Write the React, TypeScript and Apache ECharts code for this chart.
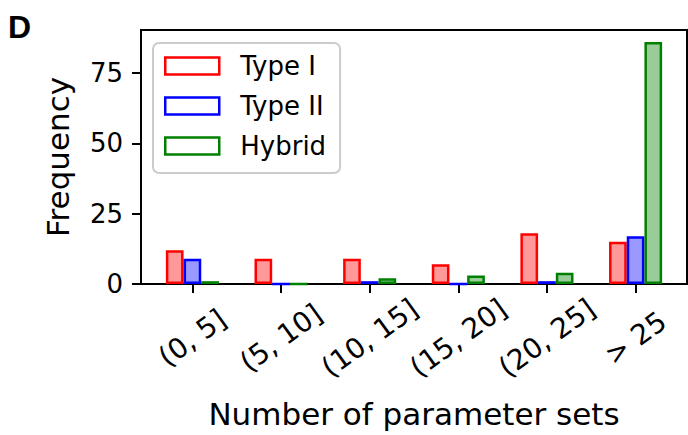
import React, { useEffect, useRef } from "react";
import * as echarts from "echarts";

const categories = ["(0, 5]", "(5, 10]", "(10, 15]", "(15, 20]", "(20, 25]", "> 25"];
const typeI = [12, 9, 9, 7, 18, 15];
const typeII = [9, 0, 1, 0, 1, 17];
const hybrid = [1, 0, 2, 3, 4, 86];
const yTicks = [0, 25, 50, 75];
const xTicks = [0, 1, 2, 3, 4, 5];

const seriesDefs = [
  { name: "Type I", data: typeI, fill: "#ff9999", edge: "#ff0000" },
  { name: "Type II", data: typeII, fill: "#9999ff", edge: "#0000ff" },
  { name: "Hybrid", data: hybrid, fill: "#99cc99", edge: "#008000" },
];

export default function App() {
  const ref = useRef<HTMLDivElement>(null);
  useEffect(() => {
    if (!ref.current) return;
    const chart = echarts.init(ref.current, undefined, { renderer: "svg" });
    const font = "DejaVu Sans";
    const option: any = {
      animation: false,
      backgroundColor: "#ffffff",
      textStyle: { fontFamily: font },
      title: {
        text: "D",
        left: 3,
        top: 6,
        textStyle: {
          fontFamily: "Liberation Sans",
          fontWeight: "bold",
          fontSize: 32,
          color: "#000",
        },
      },
      grid: {
        left: 141,
        top: 30,
        right: 1,
        bottom: 151,
        show: true,
        borderColor: "#000",
        borderWidth: 2,
        containLabel: false,
        outerBoundsMode: "none",
      },
      legend: {
        orient: "vertical",
        left: 153,
        top: 43,
        padding: [8, 14, 12, 11],
        itemWidth: 54,
        itemHeight: 17,
        itemGap: 10,
        icon: "rect",
        backgroundColor: "rgba(255,255,255,0.8)",
        borderColor: "#cccccc",
        borderWidth: 2,
        borderRadius: 6,
        textStyle: {
          fontFamily: font,
          fontSize: 26,
          color: "#000",
          lineHeight: 30,
          padding: [0, 0, 0, 16],
        },
        data: seriesDefs.map((s) => ({
          name: s.name,
          itemStyle: { color: "rgba(255,255,255,0)", borderColor: s.edge, borderWidth: 2.5 },
        })),
      },
      xAxis: {
        type: "value",
        min: -0.58,
        max: 5.58,
        name: "Number of parameter sets",
        nameLocation: "middle",
        nameGap: 114,
        nameTextStyle: { fontFamily: font, fontSize: 31, color: "#000" },
        axisLine: { show: true, onZero: false, lineStyle: { color: "#000", width: 2 } },
        axisTick: { show: true, length: 9, customValues: xTicks, lineStyle: { color: "#000", width: 2 } },
        axisLabel: {
          customValues: xTicks,
          formatter: (v: number) => categories[Math.round(v)] ?? "",
          rotate: 36,
          align: "center",
          verticalAlign: "middle",
          margin: 54,
          fontFamily: font,
          fontSize: 28,
          color: "#000",
          hideOverlap: false,
        },
        splitLine: { show: false },
      },
      yAxis: {
        type: "value",
        min: 0,
        max: 90.3,
        name: "Frequency",
        nameLocation: "middle",
        nameGap: 68,
        nameTextStyle: { fontFamily: font, fontSize: 31, color: "#000" },
        axisLine: { show: true, onZero: false, lineStyle: { color: "#000", width: 2 } },
        axisTick: { show: true, length: 9, customValues: yTicks, lineStyle: { color: "#000", width: 2 } },
        axisLabel: {
          customValues: yTicks,
          margin: 18,
          fontFamily: font,
          fontSize: 26,
          color: "#000",
        },
        splitLine: { show: false },
      },
      series: seriesDefs.map((s) => ({
        type: "bar",
        name: s.name,
        data: s.data.map((v, i) => [i, v]),
        barWidth: 17.7,
        barGap: "0%",
        itemStyle: { color: s.fill, borderColor: s.edge, borderWidth: 2.5 },
      })),
    };
    chart.setOption(option);
    return () => chart.dispose();
  }, []);
  return (
    <div
      ref={ref}
      style={{ position: "fixed", left: 0, top: 0, width: 688, height: 435 }}
    />
  );
}
